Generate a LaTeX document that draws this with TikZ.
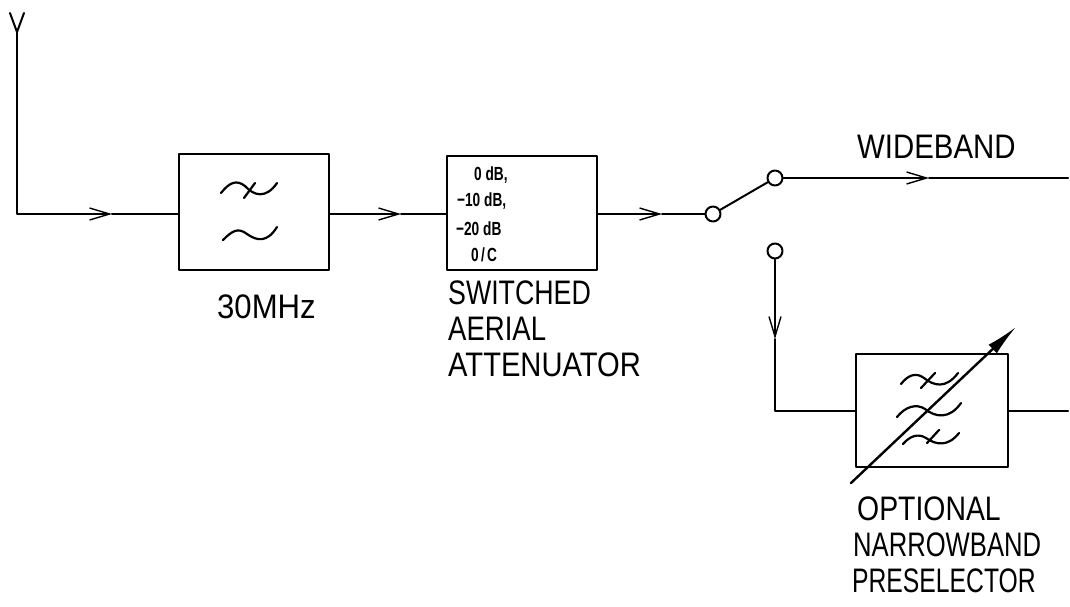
\documentclass[tikz,border=0pt]{standalone}
\usepackage{fontspec}
\setmainfont{Liberation Sans}
\usetikzlibrary{arrows.meta}
\tikzset{
  sig/.style={line width=2pt},
  sigarrow/.style={sig,-{Straight Barb[length=20pt,width=12pt,line width=1.4pt]}},
  block/.style={draw,line width=2.2pt,minimum width=150pt,minimum height=114pt,inner sep=0pt},
  contact/.style={draw,circle,line width=2pt,minimum size=15pt,inner sep=0pt},
  wavy/.style={line width=2.2pt,line cap=round},
  label/.style={anchor=west,inner sep=0pt,font=\fontsize{34}{34}\selectfont},
  level/.style={anchor=west,inner sep=0pt,font=\fontsize{19}{19}\selectfont\bfseries,xscale=.72}
}
\begin{document}
\begin{tikzpicture}[x=1pt,y=-1pt,line cap=round,line join=round]
  \useasboundingbox (0,0) rectangle (1070,606);

  % Blocks
  \node[block,minimum height=116pt] (lpf) at (254,212) {};
  \node[block] (atten) at (522,213) {};
  \node[block,minimum width=152pt,minimum height=113pt] (presel) at (932,410.5) {};

  % Switch contacts
  \node[contact] (swin) at (713,214) {};
  \node[contact] (swwide) at (775,178) {};
  \node[contact] (swnarrow) at (775,251) {};

  % Free ends and the places where the line arrows sit
  \coordinate (aerial) at (17,32);
  \coordinate (aeriall) at (10,13);
  \coordinate (aerialr) at (24,13);
  \coordinate (tiplpf) at (112,214);
  \coordinate (tipatten) at (401,214);
  \coordinate (tipsw) at (662,214);
  \coordinate (tipwide) at (929,178);
  \coordinate (wideout) at (1068,178);
  \coordinate (tipnarrow) at (775,339);
  \coordinate (narrowout) at (1068,411);
  \coordinate (tunelow) at (851,483);
  \coordinate (tunehigh) at (1016,327);

  % Aerial
  \draw[sig] (aeriall) -- (aerial) -- (aerialr);
  \draw[sigarrow] (aerial) |- (tiplpf);
  \draw[sig] (tiplpf) -- (lpf.west |- tiplpf);

  % Wideband path
  \draw[sigarrow] (lpf.east |- tipatten) -- (tipatten);
  \draw[sig] (tipatten) -- (atten.west |- tipatten);
  \draw[sigarrow] (atten.east |- tipsw) -- (tipsw);
  \draw[sig] (tipsw) -- (swin);
  \draw[sig] (swin) -- (swwide);
  \draw[sigarrow] (swwide) -- (tipwide);
  \draw[sig] (tipwide) -- (wideout);

  % Narrowband path
  \draw[sigarrow] (swnarrow) -- (tipnarrow);
  \draw[sig] (tipnarrow) |- (presel.west |- narrowout);
  \draw[sig] (presel.east |- narrowout) -- (narrowout);

  % Tuning arrow across the preselector
  \draw[line width=2.4pt,-{Latex[length=32pt,width=12pt]}] (tunelow) -- (tunehigh);

  % Filter symbols, 30MHz
  \draw[wavy] (221,193) .. controls (229,183) and (236,179) .. (245,186) .. controls (254,196) and (266,199) .. (277,183);
  \draw[wavy] (244,198) -- (255,183);
  \draw[wavy] (223,240) .. controls (232,231) and (238,227) .. (247,234) .. controls (257,241) and (267,243) .. (277,227);

  % Filter symbols, preselector
  \draw[wavy] (901,384) .. controls (908,375) and (916,372) .. (924,378) .. controls (934,386) and (946,389) .. (958,373);
  \draw[wavy] (921,388) -- (935,373);
  \draw[wavy] (897,417) .. controls (905,407) and (916,403) .. (925,409) .. controls (935,417) and (949,420) .. (961,403);
  \draw[wavy] (903,444) .. controls (910,436) and (918,433) .. (926,438) .. controls (936,445) and (948,447) .. (959,433);
  \draw[wavy] (927,443) -- (939,430);

  % Attenuator settings
  \node[level] (lvlzero) at (474,175) {0 dB,};
  \node[level] (lvlten) at (457,201) {−10 dB,};
  \node[level] (lvltwenty) at (456,229) {−20 dB};
  \node[level] (lvloc) at (471,255) {0\,/\,C};

  % Labels
  \node[label,xscale=.915] (lblcut) at (217,307) {30MHz};
  \node[label,xscale=.787] (lblswitched) at (448,293) {SWITCHED};
  \node[label,xscale=.81] (lblaerial) at (448,329) {AERIAL};
  \node[label,xscale=.857] (lblatten) at (448,365) {ATTENUATOR};
  \node[label,xscale=.865] (lblwide) at (857,147) {WIDEBAND};
  \node[label,xscale=.835] (lblopt) at (857,509) {OPTIONAL};
  \node[label,xscale=.754] (lblnarrow) at (853,545) {NARROWBAND};
  \node[label,xscale=.727] (lblpre) at (852,581) {PRESELECTOR};
\end{tikzpicture}
\end{document}
